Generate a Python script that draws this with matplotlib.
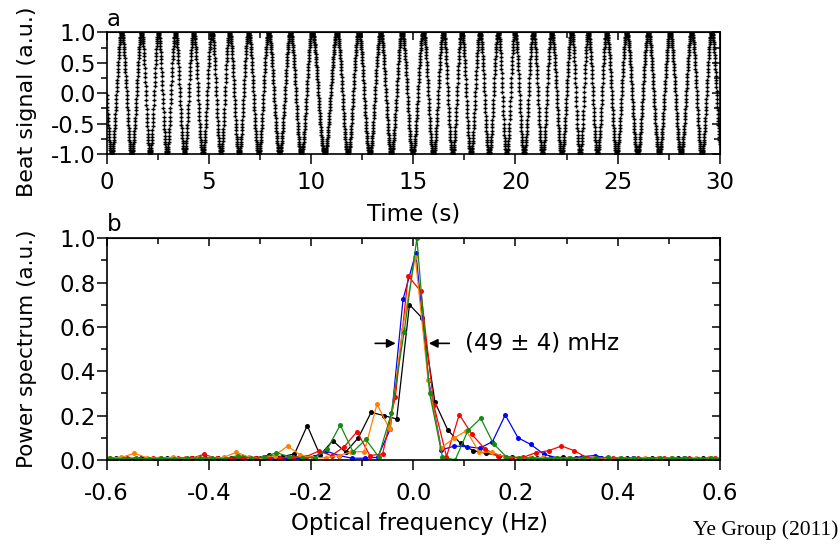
import numpy as np
import matplotlib
matplotlib.use("Agg")
import matplotlib.pyplot as plt
from matplotlib.ticker import MultipleLocator

plt.rcParams['font.family'] = ['DejaVu Sans']
plt.rcParams['axes.unicode_minus'] = False

# panel a: times (s) of the beat signal maxima
peak_times = [0.73, 1.71, 2.53, 3.36, 4.25, 5.15, 6.01, 6.94, 7.92, 8.99,
              10.05, 11.27, 12.33, 13.40, 14.45, 15.49, 16.47, 17.37, 18.26,
              19.16, 19.97, 20.87, 21.77, 22.75, 23.56, 24.46, 25.44, 26.50,
              27.56, 28.62, 29.60]
t_end = 30.0
dt = 0.01

# panel b: five spectra, 0.025 Hz bins, each with its own bin offset (Hz)
bin_step = 0.025
bin_index = np.arange(-24, 25)

black_offset = -0.0075
black_vals = [0.005, 0.008, 0.005, 0.010, 0.006, 0.008, 0.005, 0.010, 0.007, 0.010,
              0.008, 0.012, 0.010, 0.022, 0.015, 0.027, 0.155, 0.022, 0.087, 0.035,
              0.100, 0.215, 0.200, 0.185, 0.700, 0.640, 0.260, 0.135, 0.075, 0.042,
              0.030, 0.020, 0.012, 0.010, 0.008, 0.010, 0.012, 0.008, 0.006, 0.009,
              0.005, 0.008, 0.006, 0.010, 0.005, 0.008, 0.006, 0.007, 0.005]

blue_offset = 0.005
blue_vals = [0.004, 0.006, 0.003, 0.005, 0.004, 0.007, 0.003, 0.005, 0.004, 0.006,
             0.004, 0.005, 0.003, 0.006, 0.005, 0.008, 0.015, 0.040, 0.020, 0.008,
             0.008, 0.012, 0.140, 0.725, 0.935, 0.360, 0.045, 0.063, 0.060, 0.053,
             0.083, 0.203, 0.100, 0.070, 0.027, 0.010, 0.008, 0.015, 0.020, 0.008,
             0.005, 0.007, 0.004, 0.006, 0.005, 0.008, 0.004, 0.006, 0.005]

red_offset = 0.015
red_vals = [0.006, 0.009, 0.005, 0.008, 0.006, 0.010, 0.007, 0.025, 0.008, 0.006,
            0.010, 0.007, 0.012, 0.009, 0.015, 0.015, 0.040, 0.020, 0.060, 0.128,
            0.020, 0.027, 0.285, 0.830, 0.760, 0.250, 0.015, 0.205, 0.115, 0.050,
            0.020, 0.010, 0.012, 0.033, 0.042, 0.063, 0.042, 0.010, 0.006, 0.008,
            0.005, 0.009, 0.006, 0.010, 0.005, 0.008, 0.006, 0.009, 0.005]

green_offset = 0.007
green_vals = [0.008, 0.006, 0.009, 0.005, 0.008, 0.006, 0.010, 0.007, 0.009, 0.006,
              0.020, 0.008, 0.012, 0.033, 0.015, 0.010, 0.010, 0.050, 0.158, 0.037,
              0.093, 0.015, 0.210, 0.575, 1.000, 0.300, 0.015, 0.000, 0.133, 0.188,
              0.073, 0.015, 0.010, 0.008, 0.006, 0.009, 0.007, 0.010, 0.008, 0.012,
              0.007, 0.009, 0.006, 0.010, 0.007, 0.008, 0.006, 0.009, 0.005]

orange_offset = 0.004
orange_vals = [0.010, 0.012, 0.030, 0.010, 0.008, 0.012, 0.007, 0.010, 0.008, 0.012,
               0.035, 0.012, 0.010, 0.020, 0.063, 0.022, 0.010, 0.010, 0.020, 0.037,
               0.037, 0.252, 0.138, 0.590, 0.915, 0.360, 0.053, 0.098, 0.132, 0.035,
               0.035, 0.015, 0.010, 0.008, 0.012, 0.007, 0.010, 0.006, 0.009, 0.008,
               0.011, 0.006, 0.009, 0.007, 0.010, 0.006, 0.008, 0.007, 0.009]

series = [
    (black_offset, black_vals, 'black'),
    (blue_offset, blue_vals, '#0000ff'),
    (red_offset, red_vals, '#ff0000'),
    (orange_offset, orange_vals, '#ff8000'),
    (green_offset, green_vals, '#138a13'),
]

FS = 16.5

# phase of the beat signal, one cycle between neighbouring maxima
pk = np.array(peak_times)
pk_ext = np.concatenate([[pk[0] - (pk[1] - pk[0])], pk, [pk[-1] + (pk[-1] - pk[-2])]])
t = np.arange(0, t_end + dt / 2, dt)
phase = np.interp(t, pk_ext, np.arange(len(pk_ext)))
beat = np.cos(2 * np.pi * phase)


def frame(ax, xmaj, xmin, ymaj, ymin, xpad):
    ax.xaxis.set_major_locator(MultipleLocator(xmaj))
    ax.xaxis.set_minor_locator(MultipleLocator(xmin))
    ax.yaxis.set_major_locator(MultipleLocator(ymaj))
    ax.yaxis.set_minor_locator(MultipleLocator(ymin))
    ax.tick_params(which='major', direction='out', length=7, width=1.1, labelsize=FS)
    ax.tick_params(which='minor', direction='out', length=4, width=1.1)
    ax.tick_params(axis='x', pad=xpad)
    ax.tick_params(axis='y', pad=1)
    for s in ax.spines.values():
        s.set_linewidth(1.2)
    top = ax.secondary_xaxis('top')
    top.xaxis.set_major_locator(MultipleLocator(xmaj))
    top.xaxis.set_minor_locator(MultipleLocator(xmin))
    top.tick_params(which='major', direction='in', length=6, width=1.1, labeltop=False)
    top.tick_params(which='minor', direction='in', length=4, width=1.1)
    right = ax.secondary_yaxis('right')
    right.yaxis.set_major_locator(MultipleLocator(ymaj))
    right.yaxis.set_minor_locator(MultipleLocator(ymin))
    right.tick_params(which='major', direction='in', length=6, width=1.1, labelright=False)
    right.tick_params(which='minor', direction='in', length=4, width=1.1)


fig = plt.figure(figsize=(8.4, 5.45), dpi=100)

# ---- panel a
ax1 = fig.add_axes([0.127, 0.7174, 0.730, 0.2233])
ax1.plot(t, beat, linestyle='none', marker='+', markersize=3.0,
         markeredgewidth=1.0, color='black')
ax1.set_xlim(0, 30)
ax1.set_ylim(-1.0, 1.0)
frame(ax1, 5, 2.5, 0.5, 0.25, 5)
ax1.set_xlabel('Time (s)', fontsize=FS)
ax1.xaxis.set_label_coords(0.5, -0.40)
ax1.set_ylabel('Beat signal (a.u.)', fontsize=16)
ax1.yaxis.set_label_coords(-0.113, 0.43)
ax1.text(0.0, 1.01, 'a', transform=ax1.transAxes, fontsize=FS, va='bottom', ha='left')

# ---- panel b
ax2 = fig.add_axes([0.127, 0.156, 0.730, 0.4068])
for off, vals, col in series:
    f = off + bin_step * bin_index
    ax2.plot(f, vals, '-', color=col, linewidth=0.9, marker='o',
             markersize=3.6, markeredgewidth=0)
ax2.set_xlim(-0.6, 0.6)
ax2.set_ylim(0.0, 1.0)
frame(ax2, 0.2, 0.1, 0.2, 0.1, 9)
ax2.set_xlabel('Optical frequency (Hz)', fontsize=FS)
ax2.xaxis.set_label_coords(0.51, -0.235)
ax2.set_ylabel('Power spectrum (a.u.)', fontsize=15.5)
ax2.yaxis.set_label_coords(-0.113, 0.5)
ax2.text(0.0, 1.01, 'b', transform=ax2.transAxes, fontsize=FS, va='bottom', ha='left')

arrow = dict(arrowstyle='-|>', color='black', lw=1.2, mutation_scale=13)
ax2.annotate('', xy=(-0.029, 0.526), xytext=(-0.080, 0.526), arrowprops=arrow)
ax2.annotate('', xy=(0.025, 0.526), xytext=(0.076, 0.526), arrowprops=arrow)
ax2.text(0.102, 0.526, '(49 ± 4) mHz', fontsize=FS, va='center', ha='left')

fig.text(0.998, 0.018, 'Ye Group (2011)', family='Liberation Serif', fontsize=15.5,
         ha='right', va='baseline')

fig.savefig('out.png', dpi=100)
